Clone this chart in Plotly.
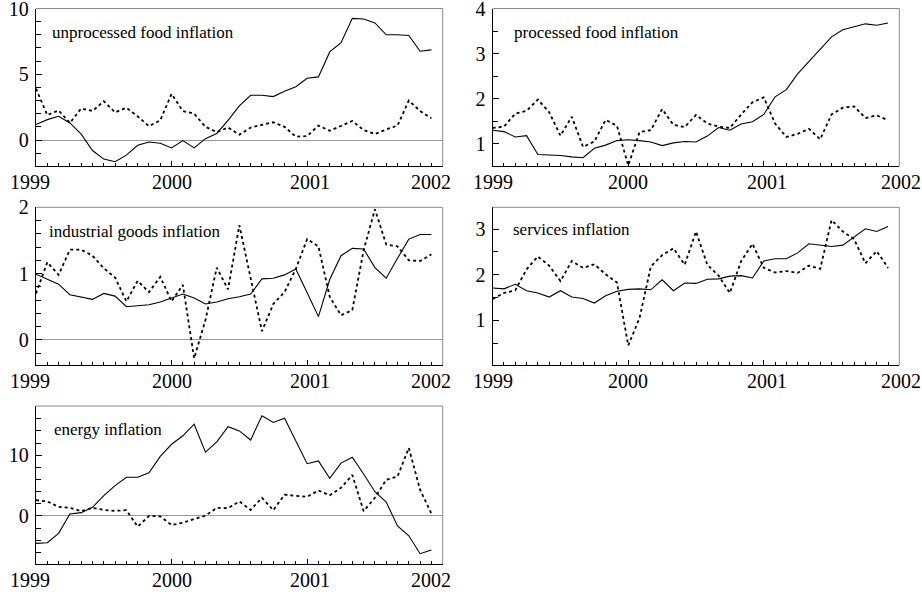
import plotly.graph_objects as go

months = [1999 + i / 12 for i in range(36)]

unproc_solid = [1.18, 1.55, 1.8, 1.3, 0.45, -0.8, -1.45, -1.65, -1.15, -0.4, -0.15, -0.25,
                -0.6, -0.05, -0.6, 0.1, 0.5, 1.5, 2.6, 3.4, 3.4, 3.3, 3.7, 4.05,
                4.7, 4.8, 6.7, 7.4, 9.25, 9.2, 8.9, 8.0, 8.0, 7.95, 6.75, 6.85]
unproc_dot = [3.9, 1.9, 2.25, 1.3, 2.4, 2.2, 2.95, 2.1, 2.45, 1.8, 1.05, 1.5,
              3.5, 2.2, 2.0, 1.0, 0.6, 0.95, 0.4, 0.95, 1.15, 1.35, 1.0, 0.25,
              0.3, 1.1, 0.7, 1.1, 1.45, 0.75, 0.45, 0.8, 1.1, 3.0, 2.2, 1.65]

proc_solid = [1.3, 1.27, 1.15, 1.18, 0.76, 0.75, 0.74, 0.71, 0.69, 0.9, 0.97, 1.07,
              1.09, 1.07, 1.04, 0.96, 1.02, 1.05, 1.04, 1.17, 1.36, 1.3, 1.44, 1.49,
              1.65, 2.04, 2.2, 2.55, 2.83, 3.1, 3.37, 3.53, 3.6, 3.66, 3.63, 3.68]
proc_dot = [1.35, 1.38, 1.67, 1.73, 1.98, 1.7, 1.18, 1.6, 0.93, 1.05, 1.53, 1.4,
            0.52, 1.26, 1.3, 1.77, 1.42, 1.37, 1.64, 1.45, 1.38, 1.35, 1.65, 1.92,
            2.03, 1.45, 1.15, 1.22, 1.33, 1.1, 1.65, 1.8, 1.83, 1.57, 1.63, 1.52]

ind_solid = [0.99, 0.92, 0.84, 0.68, 0.64, 0.61, 0.7, 0.66, 0.5, 0.51, 0.53, 0.57,
             0.63, 0.69, 0.63, 0.54, 0.57, 0.62, 0.65, 0.69, 0.92, 0.93, 0.98, 1.07,
             0.71, 0.35, 0.91, 1.27, 1.38, 1.37, 1.09, 0.93, 1.23, 1.52, 1.59, 1.59]
ind_dot = [0.7, 1.17, 0.98, 1.36, 1.36, 1.27, 1.08, 0.94, 0.58, 0.89, 0.72, 0.95,
           0.58, 0.83, -0.28, 0.3, 1.09, 0.76, 1.73, 0.93, 0.13, 0.54, 0.72, 1.07,
           1.52, 1.41, 0.65, 0.37, 0.45, 1.35, 1.97, 1.44, 1.41, 1.2, 1.19, 1.29]

serv_solid = [1.71, 1.69, 1.79, 1.65, 1.6, 1.51, 1.65, 1.51, 1.48, 1.38, 1.54, 1.64,
              1.68, 1.69, 1.67, 1.89, 1.65, 1.82, 1.81, 1.9, 1.91, 1.97, 1.98, 1.93,
              2.3, 2.35, 2.35, 2.48, 2.68, 2.65, 2.62, 2.65, 2.82, 3.01, 2.95, 3.06]
serv_dot = [1.47, 1.6, 1.66, 2.12, 2.4, 2.2, 1.86, 2.3, 2.15, 2.23, 2.01, 1.83,
            0.45, 1.05, 2.18, 2.43, 2.58, 2.22, 2.95, 2.22, 1.98, 1.6, 2.3, 2.68,
            2.15, 2.05, 2.08, 2.04, 2.2, 2.13, 3.2, 2.95, 2.78, 2.25, 2.52, 2.15]

energy_solid = [-4.5, -4.4, -2.85, 0.33, 0.55, 1.43, 3.35, 5.0, 6.37, 6.37, 7.1, 9.8,
                11.8, 13.2, 15.1, 10.5, 12.2, 14.7, 14.0, 12.5, 16.5, 15.4, 16.1, 12.4,
                8.6, 9.07, 6.2, 8.7, 9.67, 6.9, 4.0, 2.3, -1.65, -3.25, -6.2, -5.6]
energy_dot = [2.6, 2.4, 1.5, 1.35, 0.8, 1.35, 1.0, 0.85, 0.95, -1.75, 0.0, -0.05,
              -1.5, -1.1, -0.5, 0.05, 1.35, 1.3, 2.4, 1.0, 3.0, 0.95, 3.5, 3.3,
              3.15, 4.2, 3.4, 4.65, 6.75, 0.8, 3.0, 5.95, 6.5, 11.2, 4.3, 0.4]

titles = ["unprocessed food inflation", "processed food inflation",
          "industrial goods inflation", "services inflation", "energy inflation"]
year_ticks = [1999, 2000, 2001, 2002]
year_labels = ["1999", "2000", "2001", "2002"]
y_ticks = [[0, 5, 10], [1, 2, 3, 4], [0, 1, 2], [1, 2, 3], [0, 10]]
y_ranges = [[-2, 10], [0.5, 4], [-0.38, 2], [0.02, 3.48], [-7.9, 18.1]]
y_minor = [1, 0.5, 0.2, 0.5, 2]
solids = [unproc_solid, proc_solid, ind_solid, serv_solid, energy_solid]
dots = [unproc_dot, proc_dot, ind_dot, serv_dot, energy_dot]

# where the year labels sit (nudged inward at the ends, as in the original)
label_x = [[1998.956, 2000.0, 2001.021, 2001.915], [1999.0, 2000.0, 2001.027, 2002.01]]
X0, X1 = 1999, 2002

W, H = 922, 595
xdoms = [[36 / W, 442.7 / W], [492.7 / W, 899.3 / W]]
rows_px = [(8.5, 166.3), (207.3, 365), (406, 564)]
ydoms = [[1 - b / H, 1 - t / H] for t, b in rows_px]
title_pos = [(0.034, 0.85), (0.047, 0.846), (0.026, 0.846), (0.044, 0.862), (0.039, 0.85)]

FONT = "Liberation Serif, Times New Roman, serif"
fig = go.Figure()
layout = dict(template="none", width=W, height=H,
              margin=dict(l=0, r=0, t=0, b=0, autoexpand=False),
              paper_bgcolor="white", plot_bgcolor="white", showlegend=False,
              font=dict(family=FONT, color="black", size=20))
shapes = []
annotations = []
for k in range(5):
    r, c = divmod(k, 2)
    sx = "" if k == 0 else str(k + 1)
    xa, ya = "x" + sx, "y" + sx
    fig.add_trace(go.Scatter(x=months, y=solids[k], mode="lines", xaxis=xa, yaxis=ya,
                             line=dict(color="black", width=1.1)))
    fig.add_trace(go.Scatter(x=months, y=dots[k], mode="lines", xaxis=xa, yaxis=ya,
                             line=dict(color="black", width=1.8, dash="dot")))
    layout["xaxis" + sx] = dict(
        domain=xdoms[c], anchor=ya, range=[X0, X1], tickmode="array",
        tickvals=year_ticks, showticklabels=False, automargin=False,
        ticks="inside", ticklen=5, tickwidth=1, tickcolor="black",
        showline=True, linecolor="black", linewidth=1.3, showgrid=False,
        zeroline=False,
        minor=dict(dtick=1 / 12, tick0=1999, ticks="inside", ticklen=3,
                   tickcolor="black", showgrid=False))
    layout["yaxis" + sx] = dict(
        domain=ydoms[r], anchor=xa, range=y_ranges[k], tickmode="array",
        tickvals=y_ticks[k], ticks="inside", ticklen=6, tickwidth=1, tickcolor="black",
        showline=True, linecolor="black", linewidth=1.3, showgrid=False, automargin=False,
        zeroline=True, zerolinecolor="#9a9a9a", zerolinewidth=1,
        ticklabeloverflow="allow",
        tickfont=dict(family=FONT, size=20, color="black"), ticklabelstandoff=2,
        minor=dict(dtick=y_minor[k], tick0=0, ticks="inside", ticklen=5,
                   tickcolor="black", showgrid=False))
    xd, yd = xa + " domain", ya + " domain"
    shapes.append(dict(type="line", xref=xd, yref=yd, x0=0, x1=1, y0=1, y1=1,
                       line=dict(color="#8a8a8a", width=1)))
    shapes.append(dict(type="line", xref=xd, yref=yd, x0=1, x1=1, y0=0, y1=1,
                       line=dict(color="#8a8a8a", width=1)))
    tx, ty = title_pos[k]
    annotations.append(dict(text=titles[k], xref=xd, yref=yd, x=tx, y=ty,
                            xanchor="left", yanchor="middle", showarrow=False,
                            font=dict(family=FONT, size=17, color="black")))
    for lx, lt in zip(label_x[c], year_labels):
        annotations.append(dict(text=lt, xref=xd, yref=yd, x=(lx - X0) / (X1 - X0), y=0,
                                xanchor="center", yanchor="middle", yshift=-16,
                                showarrow=False,
                                font=dict(family=FONT, size=20, color="black")))
layout["shapes"] = shapes
layout["annotations"] = annotations
fig.update_layout(**layout)
fig.write_html("out.html", config={"displayModeBar": False},
               post_script="document.body.style.margin='0';document.body.style.padding='0';")
